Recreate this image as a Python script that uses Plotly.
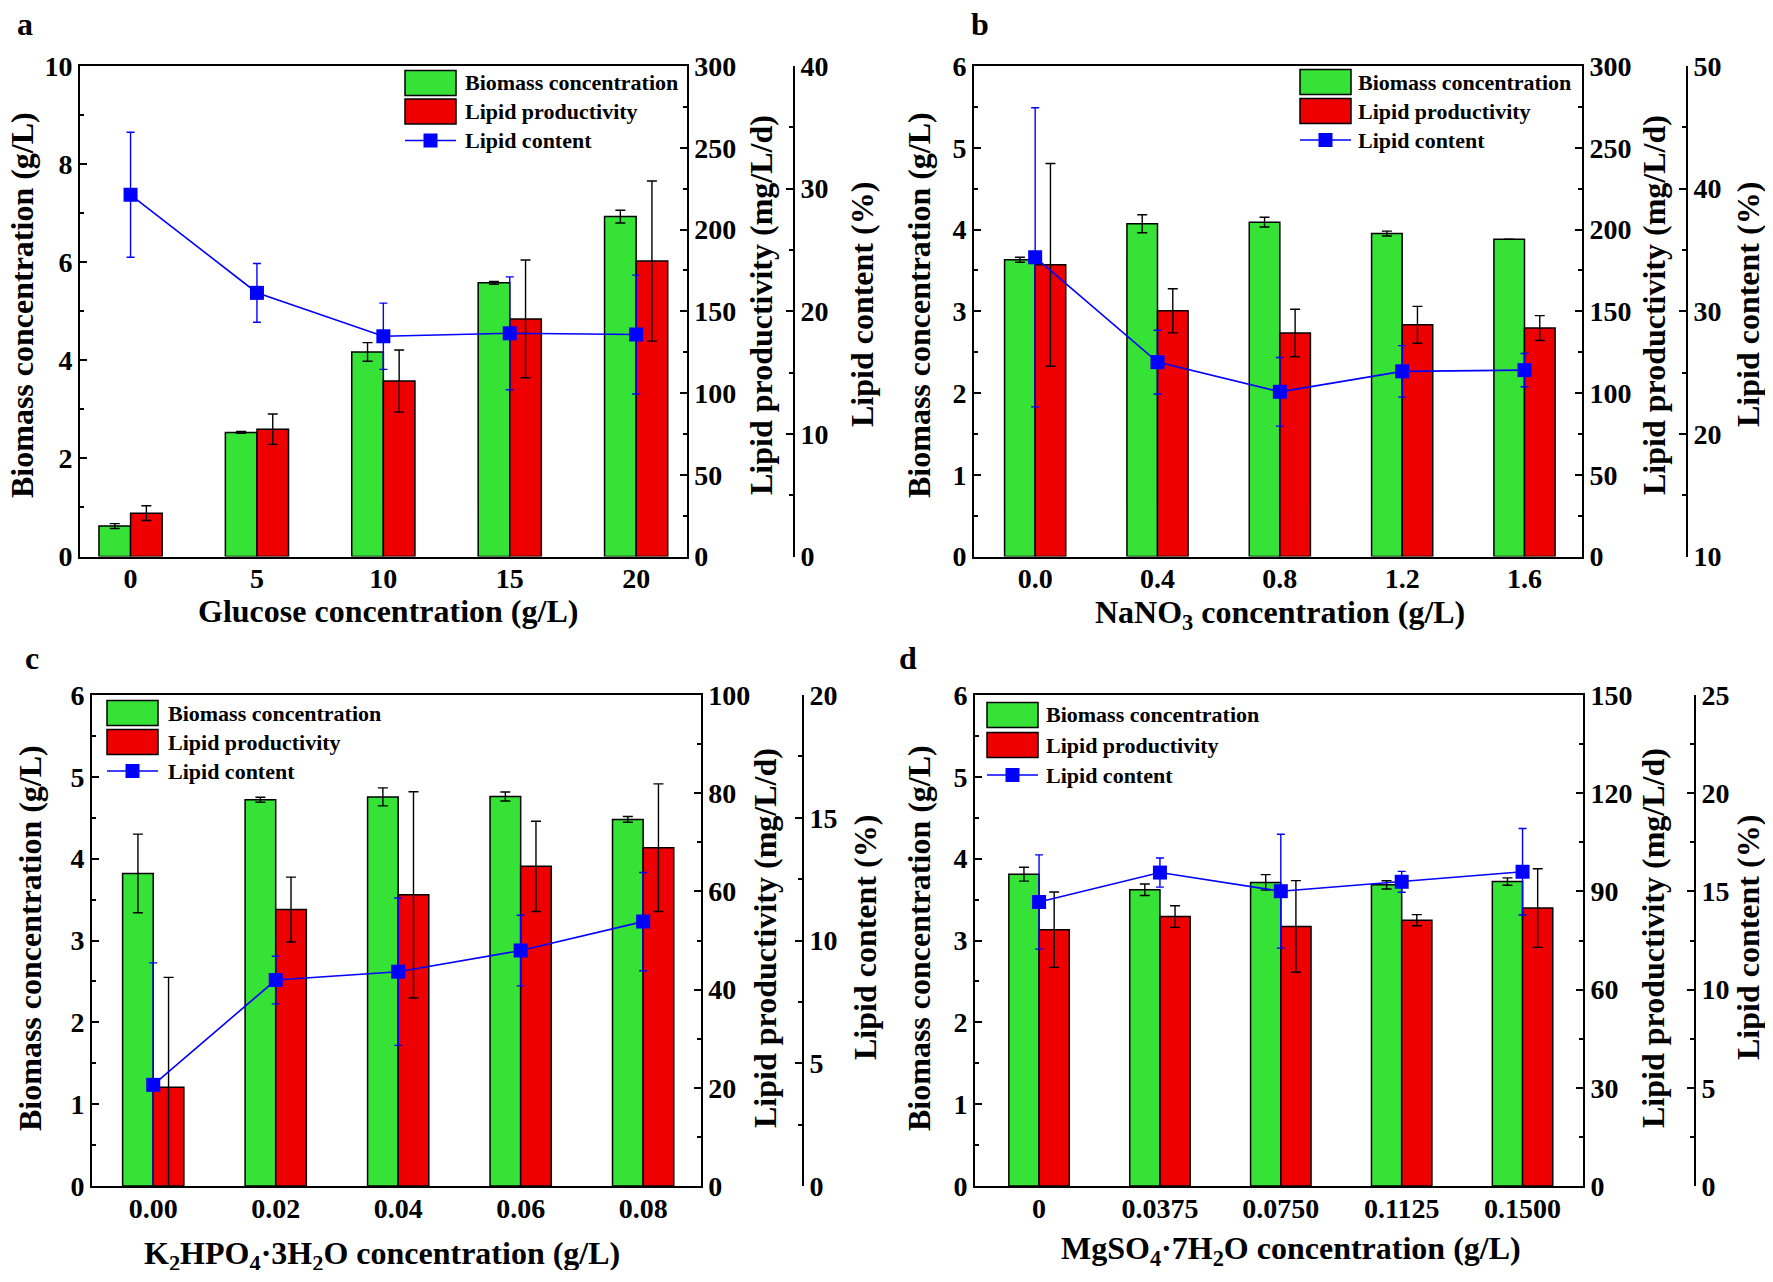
import plotly.graph_objects as go

# ---------------- data ----------------
a_labels = ["0", "5", "10", "15", "20"]
a_biomass = [0.62, 2.53, 4.17, 5.58, 6.93]
a_biomass_err = [0.05, 0.02, 0.19, 0.03, 0.13]
a_prod = [26.5, 77.9, 107.3, 145.3, 180.7]
a_prod_err = [4.5, 9.3, 19.0, 36.0, 49.0]
a_content = [29.5, 21.5, 17.96, 18.2, 18.1]
a_content_err = [5.1, 2.4, 2.7, 4.6, 4.85]

b_labels = ["0.0", "0.4", "0.8", "1.2", "1.6"]
b_biomass = [3.63, 4.07, 4.09, 3.95, 3.88]
b_biomass_err = [0.03, 0.11, 0.06, 0.03, 0.0]
b_prod = [178.4, 150.3, 136.7, 141.7, 139.7]
b_prod_err = [62.0, 13.5, 14.5, 11.3, 7.6]
b_content = [34.4, 25.85, 23.43, 25.1, 25.2]
b_content_err = [12.2, 2.6, 2.8, 2.1, 1.36]

c_labels = ["0.00", "0.02", "0.04", "0.06", "0.08"]
c_biomass = [3.82, 4.72, 4.755, 4.76, 4.48]
c_biomass_err = [0.48, 0.03, 0.11, 0.055, 0.035]
c_prod = [20.1, 56.3, 59.3, 65.1, 68.9]
c_prod_err = [22.4, 6.6, 21.0, 9.2, 13.0]
c_content = [4.12, 8.39, 8.73, 9.59, 10.77]
c_content_err = [4.97, 0.97, 3.0, 1.44, 2.0]

d_labels = ["0", "0.0375", "0.0750", "0.1125", "0.1500"]
d_biomass = [3.81, 3.62, 3.71, 3.68, 3.72]
d_biomass_err = [0.085, 0.07, 0.095, 0.05, 0.045]
d_prod = [78.3, 82.3, 79.3, 81.2, 84.9]
d_prod_err = [11.5, 3.3, 14.0, 1.7, 12.0]
d_content = [14.46, 15.96, 15.01, 15.49, 16.0]
d_content_err = [2.4, 0.74, 2.9, 0.53, 2.2]

series_names = ["Biomass concentration", "Lipid productivity", "Lipid content"]

# ---------------- styling ----------------
W, H = 1757, 1262          # page body has an 8 px margin
OFF = 8
FONT = "Liberation Serif"
GREEN = "#36e236"
RED = "#ee0000"
BLUE = "#0000ff"
BAR_W = 0.25

def px(x):
    return (x - OFF) / W

def py(y):
    return 1 - (y - OFF) / H

panels = [
    dict(labels=a_labels, bio=a_biomass, bio_e=a_biomass_err, prod=a_prod, prod_e=a_prod_err,
         cont=a_content, cont_e=a_content_err,
         xdom=(80, 686.7), ydom=(556.5, 66), pos3=794, xr=[-0.4, 4.4],
         r1=[0, 10], d1=2, m1=1, r2=[0, 300], d2=50, m2=25, r3=[0, 40], d3=10, m3=5,
         xtitle="Glucose concentration (g/L)", xt_pos=(388, 611),
         lt=22, r1t=761, r2t=862, ty=305, letter="a", let_pos=(25, 24),
         leg_box=(405, 456), leg_text=463, leg_rows=(83, 111.5, 140.5)),
    dict(labels=b_labels, bio=b_biomass, bio_e=b_biomass_err, prod=b_prod, prod_e=b_prod_err,
         cont=b_content, cont_e=b_content_err,
         xdom=(974, 1582), ydom=(556.5, 66), pos3=1687, xr=[-0.5, 4.47],
         r1=[0, 6], d1=1, m1=0.5, r2=[0, 300], d2=50, m2=25, r3=[10, 50], d3=10, m3=5,
         xtitle="NaNO<sub>3</sub> concentration (g/L)", xt_pos=(1280, 614),
         lt=919, r1t=1654, r2t=1748, ty=305, letter="b", let_pos=(980, 24),
         leg_box=(1300, 1351), leg_text=1356, leg_rows=(82, 111, 140)),
    dict(labels=c_labels, bio=c_biomass, bio_e=c_biomass_err, prod=c_prod, prod_e=c_prod_err,
         cont=c_content, cont_e=c_content_err,
         xdom=(92, 700.7), ydom=(1186, 695), pos3=803, xr=[-0.5, 4.47],
         r1=[0, 6], d1=1, m1=0.5, r2=[0, 100], d2=20, m2=10, r3=[0, 20], d3=5, m3=2.5,
         xtitle="K<sub>2</sub>HPO<sub>4</sub>·3H<sub>2</sub>O concentration (g/L)", xt_pos=(382, 1255),
         lt=30, r1t=765, r2t=865, ty=938, letter="c", let_pos=(32, 658),
         leg_box=(107, 158), leg_text=166, leg_rows=(713, 742, 771)),
    dict(labels=d_labels, bio=d_biomass, bio_e=d_biomass_err, prod=d_prod, prod_e=d_prod_err,
         cont=d_content, cont_e=d_content_err,
         xdom=(975, 1583), ydom=(1186, 695), pos3=1695, xr=[-0.53, 4.5],
         r1=[0, 6], d1=1, m1=0.5, r2=[0, 150], d2=30, m2=15, r3=[0, 25], d3=5, m3=2.5,
         xtitle="MgSO<sub>4</sub>·7H<sub>2</sub>O concentration (g/L)", xt_pos=(1291, 1250),
         lt=919, r1t=1653, r2t=1748, ty=938, letter="d", let_pos=(908, 658),
         leg_box=(987, 1038), leg_text=1044, leg_rows=(715, 745, 775)),
]

fig = go.Figure()
layout = dict(template="none", width=W, height=H, margin=dict(l=0, r=0, t=0, b=0, pad=0),
              paper_bgcolor="white", plot_bgcolor="rgba(0,0,0,0)",
              barmode="overlay", showlegend=False, annotations=[], shapes=[])

tickfont = dict(family=FONT, size=28, color="black", weight="bold")
titlefont = dict(family=FONT, size=32, color="black", weight="bold")
legfont = dict(family=FONT, size=22, color="black", weight="bold")

def yaxis_common(rng, dt, mdt):
    return dict(range=rng, dtick=dt, showline=True, linewidth=2, linecolor="black",
                ticks="inside", ticklen=7, tickwidth=1.5, tickcolor="black",
                minor=dict(ticks="inside", ticklen=4, dtick=mdt, tickcolor="black", tickwidth=1.5),
                showgrid=False, zeroline=False, tickfont=tickfont, automargin=False)

for i, p in enumerate(panels):
    xn = "x" if i == 0 else f"x{i+1}"
    xk = "xaxis" if i == 0 else f"xaxis{i+1}"
    ya, yb, yc = 3 * i + 1, 3 * i + 2, 3 * i + 3
    yan = "y" if ya == 1 else f"y{ya}"
    ybn, ycn = f"y{yb}", f"y{yc}"
    yak = "yaxis" if ya == 1 else f"yaxis{ya}"
    ybk, yck = f"yaxis{yb}", f"yaxis{yc}"
    idx = list(range(len(p["labels"])))

    fig.add_trace(go.Bar(x=idx, y=p["bio"], width=BAR_W, offset=-BAR_W,
                         marker=dict(color=GREEN, line=dict(color="black", width=1.5)),
                         error_y=dict(type="data", array=p["bio_e"], color="black", thickness=1.4, width=5),
                         name=series_names[0], xaxis=xn, yaxis=yan))
    fig.add_trace(go.Bar(x=idx, y=p["prod"], width=BAR_W, offset=0,
                         marker=dict(color=RED, line=dict(color="black", width=1.5)),
                         error_y=dict(type="data", array=p["prod_e"], color="black", thickness=1.4, width=5),
                         name=series_names[1], xaxis=xn, yaxis=ybn))
    fig.add_trace(go.Scatter(x=idx, y=p["cont"], mode="lines+markers",
                             line=dict(color=BLUE, width=1.6),
                             marker=dict(symbol="square", size=14, color=BLUE),
                             error_y=dict(type="data", array=p["cont_e"], color=BLUE, thickness=1.4, width=4),
                             name=series_names[2], xaxis=xn, yaxis=ycn))

    xd = [px(p["xdom"][0]), px(p["xdom"][1])]
    yd = [py(p["ydom"][0]), py(p["ydom"][1])]
    layout[xk] = dict(domain=xd, anchor=yan, range=p["xr"], tickvals=idx, ticktext=p["labels"],
                      showline=True, linewidth=2, linecolor="black", mirror=True,
                      ticks="", ticklen=0, ticklabelstandoff=-4, showgrid=False, zeroline=False,
                      tickfont=tickfont, automargin=False)
    layout[yak] = dict(domain=yd, anchor=xn, side="left", **yaxis_common(p["r1"], p["d1"], p["m1"]))
    layout[ybk] = dict(domain=yd, anchor=xn, overlaying=yan, side="right",
                       **yaxis_common(p["r2"], p["d2"], p["m2"]))
    layout[yck] = dict(domain=yd, anchor="free", position=px(p["pos3"]), overlaying=yan, side="right",
                       **yaxis_common(p["r3"], p["d3"], p["m3"]))

    ann = layout["annotations"]
    shp = layout["shapes"]
    ann.append(dict(text=p["xtitle"], x=px(p["xt_pos"][0]), y=py(p["xt_pos"][1]), xref="paper", yref="paper",
                    showarrow=False, xanchor="center", yanchor="middle", font=titlefont))
    ann.append(dict(text="Biomass concentration (g/L)", x=px(p["lt"]), y=py(p["ty"]), xref="paper", yref="paper",
                    showarrow=False, textangle=-90, xanchor="center", yanchor="middle", font=titlefont))
    ann.append(dict(text="Lipid productivity (mg/L/d)", x=px(p["r1t"]), y=py(p["ty"]), xref="paper", yref="paper",
                    showarrow=False, textangle=-90, xanchor="center", yanchor="middle", font=titlefont))
    ann.append(dict(text="Lipid content (%)", x=px(p["r2t"]), y=py(p["ty"]), xref="paper", yref="paper",
                    showarrow=False, textangle=-90, xanchor="center", yanchor="middle", font=titlefont))
    ann.append(dict(text=p["letter"], x=px(p["let_pos"][0]), y=py(p["let_pos"][1]), xref="paper", yref="paper",
                    showarrow=False, xanchor="center", yanchor="middle",
                    font=dict(family=FONT, size=32, color="black", weight="bold")))

    # legend (keys drawn as shapes, labels as text)
    bx0, bx1 = p["leg_box"]
    r0, r1, r2 = p["leg_rows"]
    for ry, col in ((r0, GREEN), (r1, RED)):
        shp.append(dict(type="rect", xref="paper", yref="paper",
                        x0=px(bx0), x1=px(bx1), y0=py(ry + 12.5), y1=py(ry - 12.5),
                        fillcolor=col, line=dict(color="black", width=1.5)))
    shp.append(dict(type="line", xref="paper", yref="paper", x0=px(bx0), x1=px(bx1),
                    y0=py(r2), y1=py(r2), line=dict(color=BLUE, width=1.6)))
    cx = (bx0 + bx1) / 2
    shp.append(dict(type="rect", xref="paper", yref="paper", x0=px(cx - 7), x1=px(cx + 7),
                    y0=py(r2 + 7), y1=py(r2 - 7), fillcolor=BLUE, line=dict(color=BLUE, width=0)))
    for name, ry in zip(series_names, (r0, r1, r2)):
        ann.append(dict(text=name, x=px(p["leg_text"]), y=py(ry), xref="paper", yref="paper",
                        showarrow=False, xanchor="left", yanchor="middle", font=legfont))

fig.update_layout(**layout)
fig.write_html("out.html")
